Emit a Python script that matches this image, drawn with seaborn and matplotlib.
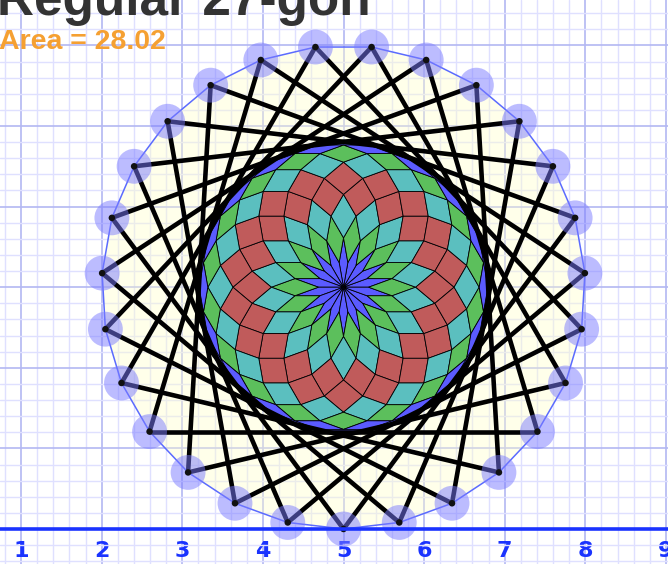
import numpy as np
import pandas as pd
import matplotlib
matplotlib.use("Agg")
import matplotlib.pyplot as plt
import seaborn as sns
from matplotlib.patches import Polygon, Circle
from matplotlib.ticker import MultipleLocator

# chart content
title_text = "Regular 27-gon"
area_text = "Area = 28.02"
n_sides = 27          # regular polygon
star_step = 8         # star polygon {27/8}
radius = 3.0
center_x, center_y = 5.0, 3.0
tile_folds = 18       # rhombus rosette inside the star
ring_colors = ["#5b5bff", "#5cbf5c", "#5bbfbf", "#c05b5b",
               "#c05b5b", "#5bbfbf", "#5cbf5c", "#5b5bff"]
tick_values = [1, 2, 3, 4, 5, 6, 7, 8, 9]
tick_labels = ["1", "2", "3", "4", "5", "6", "7", "8", "9"]
grid_y_values = [0, 1, 2, 3, 4, 5, 6]

sns.set_style("white")
plt.rcParams["font.family"] = ["Liberation Sans", "DejaVu Sans"]

fig = plt.figure(figsize=(6.68, 5.64), dpi=100)
ax = fig.add_axes([0, 0, 1, 1])

# polygon vertices, first one at the bottom
ang = -np.pi / 2 + 2 * np.pi * np.arange(n_sides) / n_sides
vx = center_x + radius * np.cos(ang)
vy = center_y + radius * np.sin(ang)

ax.add_patch(Polygon(np.column_stack([vx, vy]), closed=True,
                     facecolor="#ffffcc", alpha=0.4, edgecolor="none", zorder=1))
ax.add_patch(Polygon(np.column_stack([vx, vy]), closed=True,
                     facecolor="none", edgecolor="#5b6bff", lw=1.1, zorder=2))

# inner circle of the star and the rhombus rosette
inner_r = radius * np.cos(star_step * np.pi / n_sides)
ax.add_patch(Circle((center_x, center_y), inner_r, facecolor="#5b5bff",
                    edgecolor="none", zorder=3))

side = inner_r * np.sin(np.pi / tile_folds)
theta = 2 * np.pi * np.arange(tile_folds) / tile_folds
ex = side * np.cos(theta)
ey = side * np.sin(theta)


def chain(j, k):
    idx = [(j + i) % tile_folds for i in range(k)]
    return center_x + ex[idx].sum(), center_y + ey[idx].sum()


for k in range(1, tile_folds // 2):
    for j in range(tile_folds):
        pts = [chain(j + 1, k - 1), chain(j, k), chain(j, k + 1), chain(j + 1, k)]
        ax.add_patch(Polygon(pts, closed=True, facecolor=ring_colors[k - 1],
                             edgecolor="black", lw=0.6, zorder=3.5))

# star lines {27/8}
rows = []
for i in range(n_sides):
    t = (i + star_step) % n_sides
    rows.append({"x": vx[i], "y": vy[i], "seg": i})
    rows.append({"x": vx[t], "y": vy[t], "seg": i})
star_df = pd.DataFrame(rows)
sns.lineplot(data=star_df, x="x", y="y", units="seg", estimator=None, sort=False,
             color="black", lw=3.3, ax=ax, zorder=4, legend=False)

# vertex markers
sns.scatterplot(x=vx, y=vy, s=630, color="#7b7bff", alpha=0.5, edgecolor="none",
                ax=ax, zorder=5)
sns.scatterplot(x=vx, y=vy, s=22, color="#111111", edgecolor="none", ax=ax, zorder=6)

# axes, grid
ax.set_xlim(0.738, 9.026)
ax.set_ylim(-0.434, 6.563)
ax.set_aspect("equal", adjustable="box")
ax.set_xticks(tick_values, labels=tick_labels)
ax.set_yticks(grid_y_values, labels=[""] * len(grid_y_values))
ax.xaxis.set_minor_locator(MultipleLocator(0.2))
ax.yaxis.set_minor_locator(MultipleLocator(0.2))
ax.grid(which="major", color="#b3b8f2", lw=1.2)
ax.grid(which="minor", color="#dfe0ff", lw=1.0)
ax.set_axisbelow(True)
ax.set_xlabel("")
ax.set_ylabel("")

for side_name in ["left", "right", "top"]:
    ax.spines[side_name].set_visible(False)
ax.spines["bottom"].set_position(("data", 0))
ax.spines["bottom"].set_color("#1a33ff")
ax.spines["bottom"].set_linewidth(2.6)
ax.spines["bottom"].set_zorder(7)
ax.tick_params(axis="both", which="both", length=0)
ax.tick_params(axis="x", pad=8.5, labelsize=16, labelcolor="#1a33ff")
for lab in ax.get_xticklabels():
    lab.set_fontweight("bold")
    lab.set_family("DejaVu Sans")

fig.text(-0.004, 1 - 15 / 564, title_text, fontsize=37, fontweight="bold",
         color="#333333", va="baseline", ha="left")
fig.text(-0.002, 1 - 49 / 564, area_text, fontsize=20.5, fontweight="bold",
         color="#f5a032", va="baseline", ha="left")

fig.savefig("out.png", dpi=100)
